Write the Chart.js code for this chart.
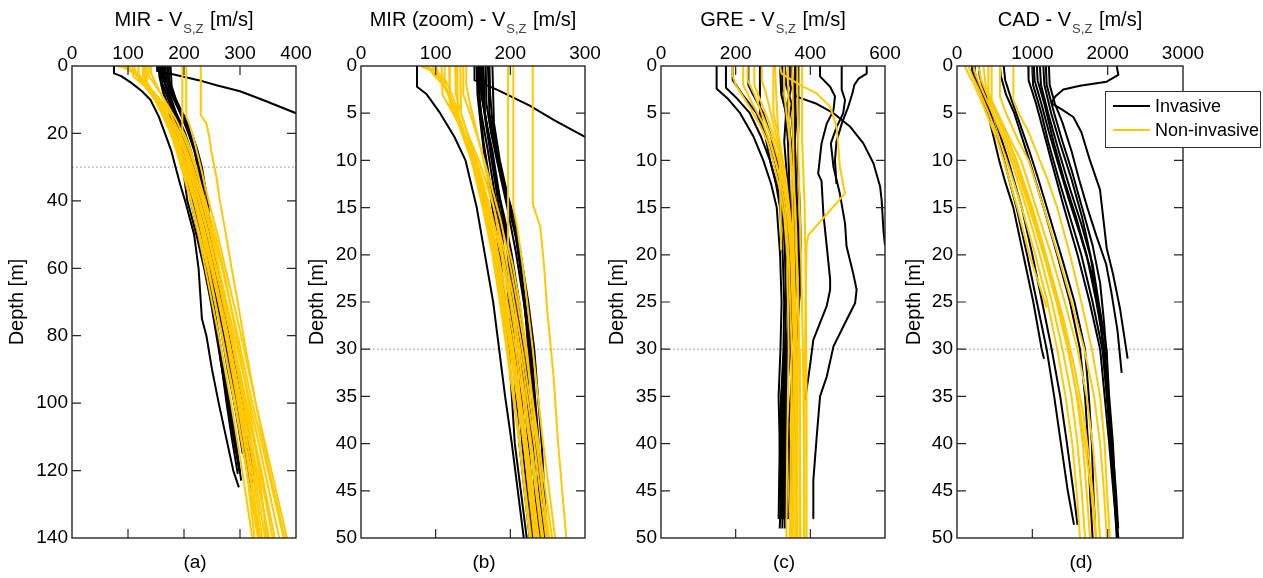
<!DOCTYPE html>
<html>
<head>
<meta charset="utf-8">
<script src="https://cdn.jsdelivr.net/npm/chart.js@4.4.1/dist/chart.umd.min.js"></script>
<style>
html,body{margin:0;padding:0;background:#fff;width:1263px;height:578px;overflow:hidden;}
body{position:relative;}
canvas{position:absolute;top:0;}
</style>
</head>
<body>
<canvas id="cA"></canvas>
<canvas id="cB"></canvas>
<canvas id="cC"></canvas>
<canvas id="cD"></canvas>
<script>
// ---------------- DATA (profiles as [depth m, Vs m/s]) ----------------
const seriesNames = ['Invasive', 'Non-invasive'];

const mirInvasive = [
  [[0,75],[2.2,75],[3,88],[5,106],[7.5,125],[10,140],[15,155],[20,166],[25,177],[30,185],[35,193],[40,202],[50,218],[60,226],[70,230],[75,232],[80,240],[90,250],[100,262],[110,275],[120,288],[125,298]],
  [[0,152],[1.5,152],[2.5,182],[4.2,226],[5.7,258],[7.5,300],[10,340],[14,400],[18,450]],
  [[0,155],[3,156],[6,160],[10,166],[15,176],[20,186],[25,193],[30,198],[40,206],[50,222],[60,236],[70,248],[80,258],[90,268],[100,276],[110,285],[121,296]],
  [[0,158],[4,159],[8,164],[12,172],[16,182],[20,192],[25,200],[30,206],[40,216],[50,228],[60,240],[70,252],[80,262],[90,272],[100,282],[110,292],[123,302]],
  [[0,161],[3,162],[6,167],[10,175],[15,185],[20,198],[25,207],[30,214],[40,224],[50,234],[60,246],[70,258],[80,268],[90,278],[100,290],[110,302],[125,318]],
  [[0,164],[5,166],[8,172],[12,180],[16,192],[20,202],[25,212],[30,220],[40,230],[50,240],[60,252],[70,262],[80,272],[90,283],[100,295],[110,305],[124,322]],
  [[0,167],[4,168],[7,174],[10,182],[15,196],[20,208],[25,218],[30,226],[40,236],[50,244],[60,256],[70,266],[80,276],[90,288],[100,300],[110,310],[122,325]],
  [[0,170],[5,172],[8,178],[12,190],[16,205],[20,214],[25,224],[30,232],[40,242],[50,249],[60,260],[70,270],[80,282],[90,294],[100,306],[110,315],[120,324]],
  [[0,176],[6,178],[10,186],[15,200],[20,212],[25,220],[30,228],[40,238],[50,246],[60,254],[70,263],[80,272],[90,280],[100,290],[115,305]],
  [[0,160],[3,161],[6,168],[9,176],[13,184],[18,194],[24,202],[30,210],[40,220],[50,230],[62,242],[75,256],[88,266],[100,278],[112,290],[121,300]],
  [[0,163],[4,164],[7,170],[11,178],[15,188],[20,200],[25,209],[30,217],[40,228],[50,238],[60,249],[70,259],[80,270],[90,281],[100,293],[110,304],[124,316]],
  [[0,172],[3,173],[6,176],[10,184],[14,195],[18,207],[24,218],[30,224],[40,234],[50,243],[60,252],[70,262],[80,273],[90,285],[100,297],[110,308],[122,318]],
  [[0,157],[2,157],[5,161],[9,170],[13,178],[18,189],[24,197],[30,203],[40,212],[50,226],[60,238],[70,250],[80,260],[90,270],[100,280],[110,290],[120,299]]
];
const mirNonInvasive = [
  [[0,80],[0.5,95],[1.5,108],[3,118],[5,128],[8,142],[12,158],[16,170],[20,180],[25,190],[30,200],[40,218],[50,232],[60,244],[70,256],[80,268],[100,290],[120,312],[140,332]],
  [[0,95],[1,104],[2,112],[4,122],[7,136],[10,150],[15,165],[20,178],[25,188],[30,197],[40,213],[50,228],[60,242],[70,255],[80,268],[100,292],[120,312],[140,326]],
  [[0,108],[3,109],[4,116],[6,130],[10,152],[15,168],[20,182],[25,193],[30,204],[40,222],[50,238],[60,252],[70,265],[80,278],[100,302],[120,328],[140,352]],
  [[0,118],[4,119],[5,125],[7,138],[10,155],[15,172],[20,188],[25,200],[30,210],[40,228],[50,244],[60,258],[70,272],[80,286],[100,312],[120,338],[140,362]],
  [[0,133],[5,134],[7,142],[10,158],[15,178],[20,193],[25,205],[30,216],[40,235],[50,252],[60,268],[70,282],[80,296],[100,322],[120,350],[140,378]],
  [[0,137],[3,137],[5,146],[8,158],[12,172],[16,186],[20,197],[25,209],[30,220],[40,238],[50,256],[60,270],[70,282],[80,294],[100,316],[120,334],[140,348]],
  [[0,197],[19,197],[21,203],[25,212],[30,222],[40,236],[50,250],[60,262],[70,274],[80,286],[100,308],[120,330],[140,350]],
  [[0,204],[15,204],[17,209],[22,218],[30,230],[40,244],[50,260],[60,274],[70,288],[80,302],[100,328],[120,356],[140,384]],
  [[0,230],[14.6,230],[17,240],[21,245],[25.5,249],[33,258],[40,264],[50,275],[60,285],[70,296],[80,306],[100,328],[120,352],[140,380]],
  [[0,100],[1,105],[3,117],[6,130],[10,148],[15,163],[20,176],[25,186],[30,195],[40,212],[50,226],[60,238],[70,250],[80,262],[100,284],[120,304],[140,322]],
  [[0,126],[3,127],[5,134],[8,146],[12,162],[16,176],[20,188],[25,200],[30,210],[40,228],[50,244],[60,258],[70,270],[80,283],[100,306],[120,325],[140,345]],
  [[0,88],[1,98],[2,110],[4,123],[7,138],[12,158],[20,182],[25,193],[30,203],[40,222],[50,238],[60,252],[70,265],[80,278],[100,300],[120,322],[140,340]],
  [[0,112],[2,112],[3,118],[5,127],[8,140],[12,156],[16,168],[20,179],[25,190],[30,200],[40,218],[50,234],[60,248],[70,262],[80,275],[100,298],[120,318],[140,336]],
  [[0,129],[6,130],[8,142],[11,156],[15,170],[20,184],[25,196],[30,207],[40,226],[50,242],[60,256],[70,270],[80,284],[100,310],[120,336],[140,358]],
  [[0,141],[2,141],[4,146],[7,155],[10,164],[15,178],[20,190],[25,202],[30,213],[40,232],[50,248],[60,262],[70,276],[80,290],[100,318],[120,344],[140,370]],
  [[0,85],[0.5,100],[1.5,113],[3,122],[6,134],[10,150],[15,166],[20,180],[25,192],[30,202],[40,220],[50,236],[60,250],[70,262],[80,274],[100,296],[120,316],[140,334]]
];

const greInvasive = [
  [[0,149],[2.4,149],[3.5,180],[5,212],[7.5,248],[10,274],[12.5,295],[15,310],[20,319],[25,323],[30,320],[35,315],[40,318],[48,323]],
  [[0,174],[2.3,174],[3.5,205],[5,238],[7.5,268],[10,292],[12.5,308],[15,319],[20,326],[25,330],[30,328],[35,322],[40,325],[48,330]],
  [[0,192],[1.5,192],[3,218],[5,256],[7.5,282],[10,301],[12.5,316],[15,326],[20,332],[25,335],[30,332],[35,326],[42,328],[49,332]],
  [[0,234],[2,234],[3,246],[5,274],[7.5,295],[10,310],[12.5,322],[15,332],[20,341],[25,345],[30,340],[35,334],[42,336],[48,340]],
  [[0,265],[5,265],[7.5,280],[10,292],[12.5,310],[15,323],[20,337],[25,342],[30,336],[35,330],[40,332],[48,338]],
  [[0,319],[3,322],[5,335],[8,330],[12,338],[15,340],[20,345],[25,348],[30,335],[35,322],[40,318],[48,315]],
  [[0,332],[2,335],[4,350],[6,342],[9,350],[15,352],[22,356],[27,350],[33,330],[40,322],[48,320]],
  [[0,341],[2.5,348],[4,338],[7,345],[12,355],[18,360],[24,358],[30,342],[38,325],[45,322],[49,318]],
  [[0,350],[3,355],[6,352],[10,358],[16,362],[22,365],[28,352],[34,338],[42,330],[48,335]],
  [[0,359],[4,360],[8,358],[12,362],[18,368],[24,372],[30,356],[38,342],[45,345],[48,348]],
  [[0,368],[6,368],[10,366],[15,372],[20,375],[25,370],[30,362],[35,352],[42,350],[47,350]],
  [[0,362],[3,358],[6,362],[10,355],[15,350],[20,352],[26,345],[32,330],[40,325],[48,328]],
  [[0,325],[2,325],[4,332],[8,340],[14,345],[20,350],[26,352],[32,335],[40,328],[49,325]],
  [[0,345],[2,345],[3.25,363],[4,417],[5,462],[6.4,506],[8.2,542],[10.3,569],[12.8,587],[14.2,591],[17.5,596],[19,600],[22,612]],
  [[0,426],[1.1,426],[2.2,453],[3.2,466],[4.7,462],[6.1,444],[8.2,430],[11.4,421],[12.2,430],[15.7,435],[19.1,444],[22.6,453],[23.7,453],[25.4,444],[27.2,426],[29,408],[31.8,399],[35.4,386]],
  [[0,484],[2.5,484],[3.6,493],[5,488],[6.5,470],[8.2,455],[10.7,462],[13.5,479],[16.7,493],[19.1,497],[22,515],[23.7,524],[25.1,520],[26.9,497],[29.7,462],[32.9,444],[35,426],[39.3,417],[43.9,408],[47.9,408]],
  [[0,551],[0.8,551],[1.3,530],[2,518],[3,512],[4.5,500],[6,485],[8,470],[10,466],[12.5,470]]
];
const greNonInvasive = [
  [[0,192],[1,192],[2,200],[4,232],[6,262],[8,285],[10,300],[13,318],[16,330],[20,338],[30,342],[40,338],[50,336]],
  [[0,220],[2,220],[4,245],[6,272],[9,300],[12,320],[15,332],[20,342],[30,350],[40,348],[50,345]],
  [[0,232],[1.5,232],[3,250],[5,270],[8,300],[11,322],[15,338],[20,348],[30,356],[40,352],[50,350]],
  [[0,250],[2,250],[4,270],[6,290],[9,315],[13,335],[18,350],[25,358],[35,362],[50,360]],
  [[0,301],[5,301],[8,318],[12,335],[18,352],[30,365],[40,366],[50,365]],
  [[0,330],[3,330],[8,345],[15,360],[25,368],[35,372],[50,372]],
  [[0,352],[10,355],[20,362],[30,370],[40,372],[50,374]],
  [[0,365],[10,368],[20,375],[30,380],[40,383],[50,383]],
  [[0,378],[8,378],[15,385],[25,388],[35,390],[50,390]],
  [[0,318],[0.8,323],[2,372],[2.9,417],[4.3,453],[6.4,470],[8.5,475],[10.7,479],[13.5,493],[17.9,395],[18.8,390],[25,387],[35,385],[50,384]],
  [[0,305],[4,310],[10,318],[19.5,322]],
  [[0,340],[5,342],[12,350],[20,356],[30,360],[40,362],[50,362]],
  [[0,270],[1.5,270],[3,282],[6,300],[10,325],[14,340],[20,352],[30,358],[40,356],[50,355]]
];

const cadInvasive = [
  [[0,200],[0.5,200],[1.5,240],[3,320],[5,410],[8,500],[10,560],[12.2,637],[15,748],[20,880],[25,1013],[30,1124],[31,1155]],
  [[0,230],[0.7,235],[1.5,265],[3,345],[5,445],[8,560],[10,625],[15,790],[20,930],[25,1060],[30,1190],[35,1290],[40,1380],[45,1470],[48.6,1553]],
  [[0,290],[1,300],[2,335],[4,430],[6,520],[10,680],[15,860],[20,1000],[25,1130],[30,1257],[35,1370],[40,1460],[45,1544],[48.6,1600]],
  [[0,570],[1,580],[3,650],[5,760],[8,880],[10,960],[15,1150],[20,1330],[25,1500],[30,1633],[35,1700],[40,1740],[45,1765],[50,1800]],
  [[0,620],[1.5,640],[3.5,720],[6,830],[9,960],[12,1080],[16,1230],[20,1380],[25,1560],[30,1699],[35,1750],[40,1790],[45,1810],[48.6,1832]],
  [[0,947],[1.5,950],[4,1050],[7,1150],[10,1250],[15,1420],[20,1600],[25,1760],[30,1900],[35,1960],[40,2020],[45,2075],[50,2130]],
  [[0,1000],[2,1010],[5,1120],[8,1210],[12,1350],[16,1500],[20,1650],[25,1800],[30,1930],[35,1990],[40,2045],[45,2090],[50,2142]],
  [[0,1060],[1.5,1070],[4,1160],[8,1280],[12,1420],[16,1580],[20,1720],[25,1850],[30,1960],[35,2010],[40,2060],[45,2110],[49,2140]],
  [[0,1100],[2,1115],[5,1210],[9,1350],[13,1500],[17,1660],[21,1800],[25,1880],[30,1985],[35,2020],[40,2070],[45,2100]],
  [[0,1146],[2,1160],[5,1250],[8,1360],[12,1520],[16,1660],[20,1770],[25,1870],[30,1950],[33,1990]],
  [[0,1020],[1.5,1030],[4,1120],[7,1220],[10,1330],[14,1480],[18,1640],[22,1790],[26,1890],[30,1940],[35,1990],[40,2040],[45,2085],[50,2120]],
  [[0,1180],[2,1190],[5,1290],[8,1400],[11,1520],[15,1660],[19,1800],[23,1900],[27,1950],[31,1990]],
  [[0,2120],[0.95,2142],[1.66,1987],[2.1,1633],[2.5,1411],[3.25,1301],[3.95,1257],[4.6,1390],[5.4,1544],[7,1650],[10,1765],[13.1,1898],[16,1940],[19.3,1987],[22,2070],[25.7,2164],[31,2265]],
  [[0,1220],[2,1230],[4,1300],[6,1400],[9,1520],[12,1620],[15,1730],[18,1850],[21,1980],[24,2050],[28,2130],[32.5,2186]]
];
const cadNonInvasive = [
  [[0,106],[1,160],[2,230],[4,340],[6,440],[8,540],[10,620],[15,800],[20,960],[25.6,1190]],
  [[0,150],[1,200],[2.5,290],[5,420],[8,570],[10,660],[15,860],[20,1040],[25,1200],[30,1330],[35,1440],[40,1530],[45,1588],[50,1633]],
  [[0,217],[1,250],[2.5,330],[5,470],[8,630],[10,720],[15,920],[20,1100],[25,1260],[30,1400],[35,1520],[40,1600],[45,1655],[50,1700]],
  [[0,283],[1.5,320],[3,400],[5,520],[8,690],[10,790],[15,1000],[20,1180],[25,1340],[30,1480],[35,1590],[40,1670],[45,1720],[50,1765]],
  [[0,416],[3.6,416],[5,480],[8,640],[10,750],[15,960],[20,1150],[25,1320],[30,1470],[35,1600],[40,1700],[45,1780],[50,1840]],
  [[0,460],[3.6,460],[5,540],[8,720],[10,850],[15,1050],[20,1250],[25,1430],[30,1600],[35,1720],[40,1800],[45,1860],[50,1898]],
  [[0,571],[3.2,571],[5,650],[8,820],[10,950],[15,1150],[20,1340],[25,1520],[30,1690],[35,1820],[40,1900],[45,1950],[50,1990]],
  [[0,748],[3.6,748],[5,820],[7,950],[10,1100],[12,1200],[15,1330],[20,1500],[25,1650],[30,1790],[35,1900],[40,1960],[45,1990],[50,2031]],
  [[0,350],[2,380],[4,470],[7,620],[10,780],[13,900],[17,1060],[22,1250],[27,1420],[32,1560],[37,1680],[42,1760],[46,1810],[50,1850]]
];

// reference depth (dotted line)
const referenceDepth = [30];

// tick label values
const xTicksMIR = [0, 100, 200, 300, 400];
const xTicksMIRzoom = [0, 100, 200, 300];
const xTicksGRE = [0, 200, 400, 600];
const xTicksCAD = [0, 1000, 2000, 3000];
const yTicksDeep = [0, 20, 40, 60, 80, 100, 120, 140];
const yTicksShallow = [0, 5, 10, 15, 20, 25, 30, 35, 40, 45, 50];

// panel texts
const panelTitles = ['MIR - V', 'MIR (zoom) - V', 'GRE - V', 'CAD - V'];
const titleSubscript = 'S,Z';
const titleUnit = ' [m/s]';
const panelLetters = ['(a)', '(b)', '(c)', '(d)'];
const yAxisTitle = 'Depth [m]';

// ---------------- STYLE / LAYOUT ----------------
const FONT = "'Liberation Sans', Arial, Helvetica, sans-serif";
const INV_COLOR = '#000000';
const NON_COLOR = '#FFC800';
const PLOT_TOP = 66;
const PLOT_BOTTOM_PAD = 40;
const H = 578;

function isMult(v, step) { const r = v / step; return Math.abs(r - Math.round(r)) < 1e-6; }

const decor = {
  id: 'decor',
  afterDatasetsDraw(chart, args, o) {
    const ctx = chart.ctx, a = chart.chartArea;
    const xs = chart.scales.x, ys = chart.scales.y;
    ctx.save();
    ctx.strokeStyle = '#262626';
    ctx.lineWidth = 1.2;
    ctx.beginPath();
    xs.ticks.forEach(t => {
      const p = xs.getPixelForValue(t.value);
      if (p <= a.left + 1 || p >= a.right - 1) return;
      const len = isMult(t.value, o.xLong) ? o.longLen : o.shortLen;
      ctx.moveTo(p, a.top); ctx.lineTo(p, a.top + len);
      ctx.moveTo(p, a.bottom); ctx.lineTo(p, a.bottom - len);
    });
    ys.ticks.forEach(t => {
      const p = ys.getPixelForValue(t.value);
      if (p <= a.top + 1 || p >= a.bottom - 1) return;
      const len = isMult(t.value, o.yLong) ? o.longLen : o.shortLen;
      ctx.moveTo(a.left, p); ctx.lineTo(a.left + len, p);
      ctx.moveTo(a.right, p); ctx.lineTo(a.right - len, p);
    });
    ctx.stroke();
    ctx.lineWidth = 1.4;
    ctx.strokeRect(a.left, a.top, a.right - a.left, a.bottom - a.top);
    ctx.restore();
  },
  afterDraw(chart, args, o) {
    const ctx = chart.ctx, a = chart.chartArea;
    const cx = (a.left + a.right) / 2;
    ctx.save();
    ctx.textAlign = 'left';
    ctx.textBaseline = 'alphabetic';
    ctx.fillStyle = '#000';
    ctx.font = '20px ' + FONT;
    const w1 = ctx.measureText(o.title).width;
    const w3 = ctx.measureText(o.unit).width;
    ctx.font = '13px ' + FONT;
    const w2 = ctx.measureText(o.sub).width + 2;
    let x = cx - (w1 + w2 + w3) / 2;
    ctx.font = '20px ' + FONT;
    ctx.fillText(o.title, x, 26);
    x += w1;
    ctx.font = '13px ' + FONT;
    ctx.fillStyle = '#444';
    ctx.fillText(o.sub, x + 1, 33);
    x += w2;
    ctx.fillStyle = '#000';
    ctx.font = '20px ' + FONT;
    ctx.fillText(o.unit, x, 26);
    // panel letter
    ctx.textAlign = 'center';
    ctx.textBaseline = 'middle';
    ctx.font = '19px ' + FONT;
    ctx.fillText(o.letter, cx + 11, 563);
    // legend
    if (o.legend) {
      const L = o.legend;
      ctx.fillStyle = '#fff';
      ctx.fillRect(L.x, L.y, L.w, L.h);
      ctx.strokeStyle = '#333';
      ctx.lineWidth = 1;
      ctx.strokeRect(L.x + 0.5, L.y + 0.5, L.w, L.h);
      const rows = [[seriesNames[0], INV_COLOR, L.y + 15], [seriesNames[1], NON_COLOR, L.y + 39]];
      ctx.textAlign = 'left';
      ctx.font = '18px ' + FONT;
      rows.forEach(r => {
        ctx.strokeStyle = r[1];
        ctx.lineWidth = 2;
        ctx.beginPath();
        ctx.moveTo(L.x + 8, r[2]); ctx.lineTo(L.x + 45, r[2]);
        ctx.stroke();
        ctx.fillStyle = '#000';
        ctx.fillText(r[0], L.x + 50, r[2] + 1);
      });
    }
    ctx.restore();
  }
};

function toPoints(profile) { return profile.map(p => ({ x: p[1], y: p[0] })); }

function buildDatasets(inv, non, xMin, xMax) {
  const ds = [];
  non.forEach((p, i) => ds.push({
    label: seriesNames[1] + ' ' + (i + 1), data: toPoints(p), showLine: true,
    borderColor: NON_COLOR, backgroundColor: NON_COLOR, borderWidth: 2, pointRadius: 0,
    tension: 0, borderJoinStyle: 'round', fill: false
  }));
  inv.forEach((p, i) => ds.push({
    label: seriesNames[0] + ' ' + (i + 1), data: toPoints(p), showLine: true,
    borderColor: INV_COLOR, backgroundColor: INV_COLOR, borderWidth: 2, pointRadius: 0,
    tension: 0, borderJoinStyle: 'round', fill: false
  }));
  ds.push({
    label: 'ref', data: [{ x: xMin, y: referenceDepth[0] }, { x: xMax, y: referenceDepth[0] }], showLine: true,
    borderColor: '#8c8c8c', borderWidth: 1, borderDash: [1.5, 2.5], pointRadius: 0, fill: false
  });
  return ds;
}

const panels = [
  { id: 'cA', left: 0, width: 320, yAxisW: 72, padR: 24, title: panelTitles[0], letter: panelLetters[0],
    inv: mirInvasive, non: mirNonInvasive, xMin: 0, xMax: 400, xStep: 25, xLabels: xTicksMIR, xLong: 50,
    yMax: 140, yStep: 4, yLabels: yTicksDeep, yLong: 20, titlePad: 5.5, legend: null },
  { id: 'cB', left: 300, width: 309, yAxisW: 61, padR: 24, title: panelTitles[1], letter: panelLetters[1],
    inv: mirInvasive, non: mirNonInvasive, xMin: 0, xMax: 300, xStep: 50, xLabels: xTicksMIRzoom, xLong: 50,
    yMax: 50, yStep: 2.5, yLabels: yTicksShallow, yLong: 5, titlePad: 5.5, legend: null },
  { id: 'cC', left: 600, width: 309, yAxisW: 61, padR: 24, title: panelTitles[2], letter: panelLetters[2],
    inv: greInvasive, non: greNonInvasive, xMin: 0, xMax: 600, xStep: 100, xLabels: xTicksGRE, xLong: 100,
    yMax: 50, yStep: 2.5, yLabels: yTicksShallow, yLong: 5, titlePad: 5.5, legend: null },
  { id: 'cD', left: 896, width: 367, yAxisW: 61, padR: 80, title: panelTitles[3], letter: panelLetters[3],
    inv: cadInvasive, non: cadNonInvasive, xMin: 0, xMax: 3000, xStep: 500, xLabels: xTicksCAD, xLong: 500,
    yMax: 50, yStep: 2.5, yLabels: yTicksShallow, yLong: 5, titlePad: 6.5,
    legend: { x: 209, y: 91, w: 155, h: 56 } }
];

panels.forEach(P => {
  const canvas = document.getElementById(P.id);
  canvas.width = P.width;
  canvas.height = H;
  canvas.style.left = P.left + 'px';
  canvas.style.width = P.width + 'px';
  canvas.style.height = H + 'px';
  new Chart(canvas, {
    type: 'scatter',
    data: { datasets: buildDatasets(P.inv, P.non, P.xMin, P.xMax) },
    options: {
      responsive: false,
      animation: false,
      devicePixelRatio: 1,
      layout: { padding: { left: 0, top: 0, right: P.padR, bottom: PLOT_BOTTOM_PAD } },
      plugins: {
        legend: { display: false },
        tooltip: { enabled: false },
        decor: { title: P.title, sub: titleSubscript, unit: titleUnit, letter: P.letter,
                 xLong: P.xLong, yLong: P.yLong, longLen: 9, shortLen: 5, legend: P.legend }
      },
      scales: {
        x: {
          type: 'linear', position: 'top', min: P.xMin, max: P.xMax,
          afterFit: s => { s.height = PLOT_TOP; },
          grid: { display: false, drawTicks: false }, border: { display: false },
          ticks: {
            stepSize: P.xStep, autoSkip: false, maxRotation: 0, minRotation: 0, padding: 1,
            color: '#000', font: { family: FONT, size: 19 },
            callback: v => P.xLabels.includes(v) ? String(v) : null
          }
        },
        y: {
          type: 'linear', position: 'left', reverse: true, min: 0, max: P.yMax,
          afterFit: s => { s.width = P.yAxisW; },
          grid: { display: false, drawTicks: false }, border: { display: false },
          title: { display: true, text: yAxisTitle, color: '#000', font: { family: FONT, size: 20 },
                   padding: { top: P.titlePad, bottom: 0 } },
          ticks: {
            stepSize: P.yStep, autoSkip: false, padding: 4,
            color: '#000', font: { family: FONT, size: 19 },
            callback: v => P.yLabels.includes(v) ? String(v) : null
          }
        }
      }
    },
    plugins: [decor]
  });
});
</script>
</body>
</html>
